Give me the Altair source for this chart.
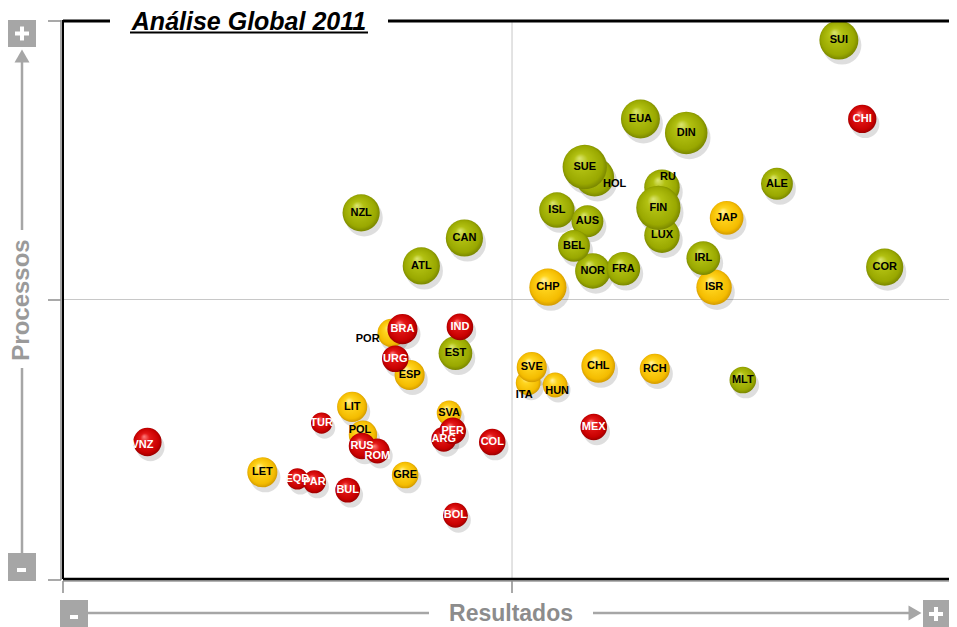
import altair as alt
import pandas as pd

# ---- data ----
paises = [
    "SUI", "EUA", "DIN", "HOL", "SUE", "RU", "LUX", "FIN", "ALE", "ISL", "NOR",
    "AUS", "BEL", "FRA", "IRL", "COR", "NZL", "CAN", "ATL", "EST", "MLT",
    "JAP", "CHP", "ISR", "POR", "ESP", "ITA", "HUN", "SVE", "CHL", "RCH",
    "POL", "LIT", "SVA", "LET", "GRE",
    "CHI", "BRA", "IND", "URG", "TUR", "RUS", "ROM", "ARG", "PER", "COL",
    "MEX", "VNZ", "EQD", "PAR", "BUL", "BOL",
]
resultados = [
    86.4, 64.3, 69.4, 59.2, 58.1, 66.7, 66.7, 66.3, 79.5, 55.0, 59.0,
    58.4, 56.9, 62.4, 71.3, 91.5, 33.2, 44.7, 39.9, 43.7, 75.7,
    73.9, 54.0, 72.5, 36.6, 38.6, 51.8, 54.8, 52.2, 59.6, 65.9,
    33.4, 32.2, 43.0, 22.2, 38.1,
    89.0, 37.8, 44.2, 37.0, 28.8, 33.3, 35.0, 42.4, 43.4, 47.8,
    59.1, 9.4, 26.1, 28.0, 31.7, 43.7,
]
processos = [
    96.4, 82.3, 79.8, 71.9, 73.7, 70.1, 61.5, 66.4, 70.7, 66.0, 55.1,
    64.0, 59.6, 55.5, 57.4, 55.8, 65.5, 61.0, 56.0, 40.4, 35.6,
    64.6, 52.2, 52.2, 44.0, 36.5, 35.1, 34.7, 37.9, 38.1, 37.6,
    25.8, 30.8, 29.7, 19.1, 18.6,
    82.3, 44.7, 45.1, 39.4, 27.9, 23.8, 22.9, 25.0, 26.5, 24.5,
    27.2, 24.5, 17.9, 17.4, 15.9, 11.4,
]
tamanho = [
    22, 22, 24, 22, 25, 20, 20, 25, 18, 20, 20,
    18, 18, 19, 19, 21, 21, 21, 21, 19, 15,
    19, 21, 20, 16, 17, 14, 14, 17, 19, 17,
    16, 17, 14, 17, 15,
    16, 17, 15, 15, 12, 15, 14, 14, 15, 15,
    15, 16, 12, 13, 14, 14,
]
grupo = (["verde"] * 21) + (["amarelo"] * 15) + (["vermelho"] * 16)

df = pd.DataFrame({
    "pais": paises,
    "resultados": resultados,
    "processos": processos,
    "tamanho": tamanho,
    "grupo": grupo,
})

W, H = 886, 559
FONT = "Liberation Sans"
GRAY = "#a6a6a6"

xs = alt.Scale(domain=[0, 98.66], nice=False, zero=False)
ys = alt.Scale(domain=[0, 100], nice=False, zero=False)
ss = alt.Scale(type="pow", exponent=2, domain=[0, 25], range=[0, 1963.5])

X = alt.X("resultados:Q", scale=xs, axis=None)
Y = alt.Y("processos:Q", scale=ys, axis=None)
S = alt.Size("tamanho:Q", scale=ss, legend=None)

base = alt.Chart(df)
one = alt.InlineData(values=[{"a": 1}])


def grad(c0, c1, c2, c3):
    return alt.RadialGradient(
        gradient="radial", x1=0.38, y1=0.3, r1=0.0, x2=0.5, y2=0.5, r2=0.55,
        stops=[
            alt.GradientStop(offset=0.0, color=c0),
            alt.GradientStop(offset=0.3, color=c1),
            alt.GradientStop(offset=0.78, color=c2),
            alt.GradientStop(offset=1.0, color=c3),
        ],
    )


fills = {
    "amarelo": grad("#fff3a8", "#ffd51f", "#f4bc00", "#c48c00"),
    "verde": grad("#dce673", "#b2c112", "#99a800", "#6c7800"),
    "vermelho": grad("#ff8080", "#e31818", "#c80000", "#860000"),
}


def rule(x, x2, y, y2, color, width):
    return alt.Chart(one).mark_rule(color=color, strokeWidth=width).encode(
        x=alt.value(x), x2=alt.value(x2), y=alt.value(y), y2=alt.value(y2)
    )


def rect(x, x2, y, y2, color):
    return alt.Chart(one).mark_rect(color=color).encode(
        x=alt.value(x), x2=alt.value(x2), y=alt.value(y), y2=alt.value(y2)
    )


layers = []

# quadrant lines
layers.append(
    alt.Chart(one).mark_rule(color="#c8c8c8", strokeWidth=1).encode(
        x=alt.X(datum=50, type="quantitative", scale=xs, axis=None),
        y=alt.value(0), y2=alt.value(H),
    )
)
layers.append(
    alt.Chart(one).mark_rule(color="#c8c8c8", strokeWidth=1).encode(
        y=alt.Y(datum=50, type="quantitative", scale=ys, axis=None),
        x=alt.value(0), x2=alt.value(W),
    )
)

# shadows
layers.append(
    base.mark_circle(color="#000000", opacity=0.13, xOffset=3, yOffset=5).encode(
        x=X, y=Y, size=S
    )
)

# bubbles
for g in ["amarelo", "verde", "vermelho"]:
    layers.append(
        base.transform_filter(alt.datum.grupo == g)
        .mark_circle(fill=fills[g], opacity=1, strokeWidth=0)
        .encode(x=X, y=Y, size=S)
    )

# labels
label_color = alt.Color(
    "grupo:N",
    scale=alt.Scale(domain=["verde", "amarelo", "vermelho"],
                    range=["#000000", "#000000", "#ffffff"]),
    legend=None,
)
shifted = [("POR", -24, 6), ("HOL", 20, 7), ("ITA", -4, 12), ("RU", 6, -10),
           ("HUN", 2, 6), ("POL", -3, -5), ("ROM", 0, 5), ("VNZ", -5, 3)]
names = [s[0] for s in shifted]
layers.append(
    base.transform_filter(
        "indexof(" + str(names) + ", datum.pais) < 0"
    ).mark_text(font=FONT, fontWeight="bold", fontSize=11, align="center",
                baseline="middle").encode(x=X, y=Y, text="pais:N", color=label_color)
)
for n, dx, dy in shifted:
    layers.append(
        base.transform_filter(alt.datum.pais == n)
        .mark_text(font=FONT, fontWeight="bold", fontSize=11, align="center",
                   baseline="middle", dx=dx, dy=dy)
        .encode(x=X, y=Y, text="pais:N", color=label_color)
    )

# frame
layers += [
    rule(-2, -2, 0, H + 1, "#8a8a8a", 1.5),
    rule(0, 0, 0, H, "#000000", 2),
    rule(0, W, H + 2, H + 2, "#9a9a9a", 1.5),
    rule(0, W, H, H, "#000000", 2.5),
    rule(0, 47, 1, 1, "#000000", 3),
    rule(325, W, 1, 1, "#000000", 3),
    # ticks
    rule(-15, -2, 1, 1, "#8c8c8c", 1.5),
    rule(-15, -2, 280, 280, "#8c8c8c", 1.5),
    rule(-15, -2, H + 1, H + 1, "#8c8c8c", 1.5),
    rule(0, 0, H + 2, H + 14, "#8c8c8c", 1.5),
    rule(449, 449, H + 2, H + 14, "#8c8c8c", 1.5),
]

# title
layers.append(
    alt.Chart(one).mark_text(
        text="Análise Global 2011", font=FONT, fontSize=25, fontWeight="bold",
        fontStyle="italic", align="center", baseline="alphabetic", color="#000000"
    ).encode(x=alt.value(186), y=alt.value(10))
)
layers.append(rule(67, 305, 12.5, 12.5, "#000000", 2))

# vertical axis decoration
layers += [
    rect(-55, -27, 0, 27, GRAY),
    rect(-48, -34, 11.5, 15.5, "#ffffff"),
    rect(-43, -39, 6.5, 20.5, "#ffffff"),
    rule(-41, -41, 40, 210, GRAY, 2.5),
    rule(-41, -41, 348, 533, GRAY, 2.5),
    rect(-55, -27, 533, 561, GRAY),
    rect(-46, -37, 548, 552, "#ffffff"),
]
layers.append(
    alt.Chart(one).mark_point(shape="triangle-up", filled=True, size=225,
                              color=GRAY, opacity=1).encode(
        x=alt.value(-41), y=alt.value(36))
)
layers.append(
    alt.Chart(one).mark_text(
        text="Processos", font=FONT, fontSize=24, fontWeight="bold", angle=270,
        align="center", baseline="middle", color="#9a9a9a"
    ).encode(x=alt.value(-41), y=alt.value(280))
)

# horizontal axis decoration (bottom strip)
BY = 594  # centre line of the strip, relative to the plot top
layers += [
    rect(-3, 25, BY - 14, BY + 14, GRAY),
    rect(7, 15, BY + 1, BY + 5, "#ffffff"),
    rule(25, 366, BY - 1, BY - 1, GRAY, 2.5),
    rule(530, 852, BY - 1, BY - 1, GRAY, 2.5),
    rect(860, W, BY - 14, BY + 14, GRAY),
    rect(866, 880, BY - 2, BY + 2, "#ffffff"),
    rect(871, 875, BY - 7, BY + 7, "#ffffff"),
]
layers.append(
    alt.Chart(one).mark_point(shape="triangle-right", filled=True, size=225,
                              color=GRAY, opacity=1).encode(
        x=alt.value(852), y=alt.value(BY - 1))
)
layers.append(
    alt.Chart(one).mark_text(
        text="Resultados", font=FONT, fontSize=23, fontWeight="bold",
        align="center", baseline="middle", color="#8c8c8c"
    ).encode(x=alt.value(448), y=alt.value(BY))
)

chart = (
    alt.layer(*layers)
    .properties(
        width=W, height=H,
        autosize=alt.AutoSizeParams(type="none"),
        padding={"left": 55, "top": 12, "right": 0, "bottom": 48},
        background="#ffffff",
    )
    .configure_view(stroke=None)
)

chart.save("out.html", embed_options={"renderer": "svg", "actions": False})
